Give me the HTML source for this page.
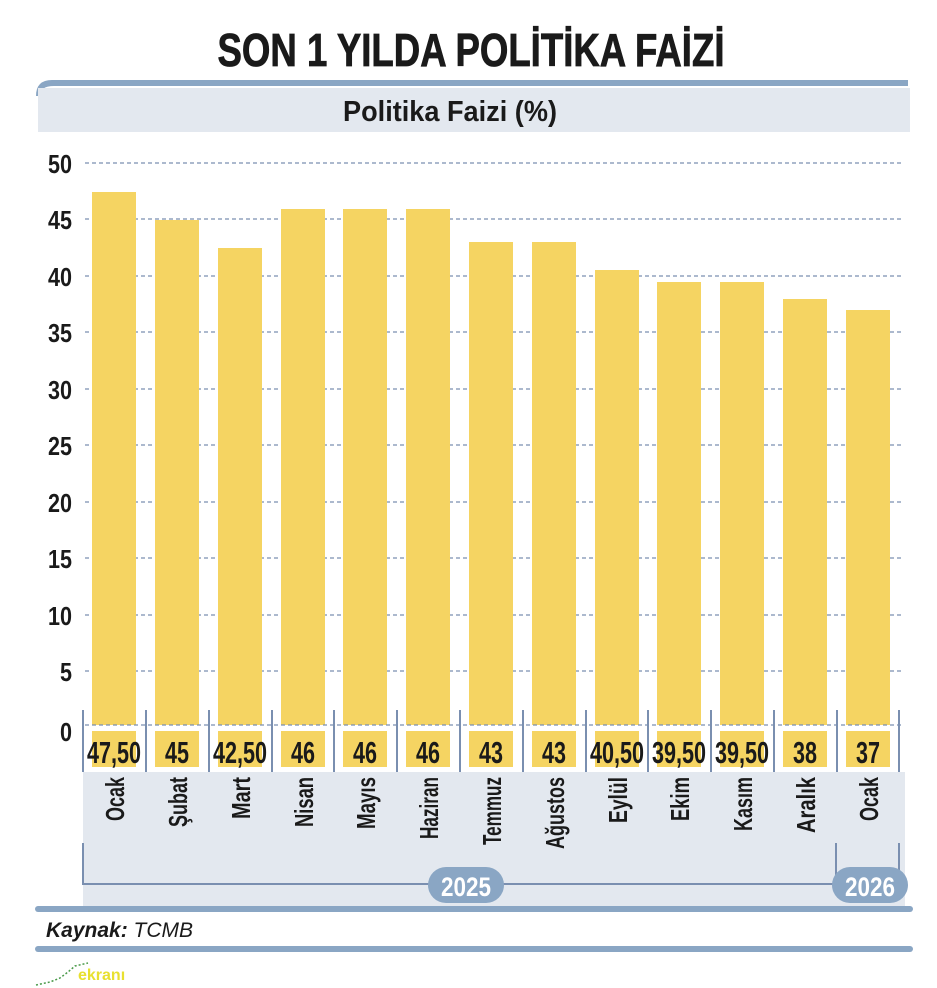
<!DOCTYPE html>
<html><head><meta charset="utf-8"><style>
html,body{margin:0;padding:0;background:#fff;width:937px;height:988px;overflow:hidden}
svg{display:block}
text{font-family:"Liberation Sans",sans-serif}
</style></head><body>
<svg width="937" height="988" viewBox="0 0 937 988" xmlns="http://www.w3.org/2000/svg">
<text x="471" y="66" text-anchor="middle" font-size="46" font-weight="bold" fill="#1a1a1a" stroke="#1a1a1a" stroke-width="0.8" textLength="507" lengthAdjust="spacingAndGlyphs">SON 1 YILDA POLİTİKA FAİZİ</text>
<path d="M36,96 Q36,80 52,80 L908,80 L908,86 L54,86 Q40,86 40,96 Z" fill="#8aa6c4"/>
<rect x="38" y="88" width="872" height="44" fill="#e3e8ef"/>
<text x="450" y="121" text-anchor="middle" font-size="29" font-weight="bold" fill="#1a1a1a" textLength="214" lengthAdjust="spacingAndGlyphs">Politika Faizi (%)</text>
<g stroke="#7a8fb0" stroke-width="1.3" stroke-dasharray="4,3">
<line x1="85" y1="163" x2="902" y2="163"/><line x1="85" y1="219" x2="902" y2="219"/><line x1="85" y1="276" x2="902" y2="276"/><line x1="85" y1="332" x2="902" y2="332"/><line x1="85" y1="389" x2="902" y2="389"/><line x1="85" y1="445" x2="902" y2="445"/><line x1="85" y1="502" x2="902" y2="502"/><line x1="85" y1="558" x2="902" y2="558"/><line x1="85" y1="615" x2="902" y2="615"/><line x1="85" y1="671" x2="902" y2="671"/>
</g>
<g font-size="26" font-weight="bold" fill="#1a1a1a" text-anchor="end">
<text x="72" y="173" textLength="24" lengthAdjust="spacingAndGlyphs">50</text><text x="72" y="229" textLength="24" lengthAdjust="spacingAndGlyphs">45</text><text x="72" y="286" textLength="24" lengthAdjust="spacingAndGlyphs">40</text><text x="72" y="342" textLength="24" lengthAdjust="spacingAndGlyphs">35</text><text x="72" y="399" textLength="24" lengthAdjust="spacingAndGlyphs">30</text><text x="72" y="455" textLength="24" lengthAdjust="spacingAndGlyphs">25</text><text x="72" y="512" textLength="24" lengthAdjust="spacingAndGlyphs">20</text><text x="72" y="568" textLength="24" lengthAdjust="spacingAndGlyphs">15</text><text x="72" y="625" textLength="24" lengthAdjust="spacingAndGlyphs">10</text><text x="72" y="681" textLength="12" lengthAdjust="spacingAndGlyphs">5</text><text x="72" y="741" textLength="12" lengthAdjust="spacingAndGlyphs">0</text>
</g>
<rect x="83" y="772" width="822" height="134" fill="#e3e8ef"/>
<g fill="#f5d462">
<rect x="92" y="192" width="44" height="533"/><rect x="155" y="220" width="44" height="505"/><rect x="218" y="248" width="44" height="477"/><rect x="281" y="209" width="44" height="516"/><rect x="343" y="209" width="44" height="516"/><rect x="406" y="209" width="44" height="516"/><rect x="469" y="242" width="44" height="483"/><rect x="532" y="242" width="44" height="483"/><rect x="595" y="270" width="44" height="455"/><rect x="657" y="282" width="44" height="443"/><rect x="720" y="282" width="44" height="443"/><rect x="783" y="299" width="44" height="426"/><rect x="846" y="310" width="44" height="415"/>
<rect x="92" y="731" width="44" height="36"/><rect x="155" y="731" width="44" height="36"/><rect x="218" y="731" width="44" height="36"/><rect x="281" y="731" width="44" height="36"/><rect x="343" y="731" width="44" height="36"/><rect x="406" y="731" width="44" height="36"/><rect x="469" y="731" width="44" height="36"/><rect x="532" y="731" width="44" height="36"/><rect x="595" y="731" width="44" height="36"/><rect x="657" y="731" width="44" height="36"/><rect x="720" y="731" width="44" height="36"/><rect x="783" y="731" width="44" height="36"/><rect x="846" y="731" width="44" height="36"/>
</g>
<line x1="85" y1="725" x2="902" y2="725" stroke="#7a8fb0" stroke-width="1.3" stroke-dasharray="4,3"/>
<g stroke="#7a8fb0" stroke-width="2">
<line x1="83" y1="710" x2="83" y2="772"/><line x1="146" y1="710" x2="146" y2="772"/><line x1="209" y1="710" x2="209" y2="772"/><line x1="272" y1="710" x2="272" y2="772"/><line x1="334" y1="710" x2="334" y2="772"/><line x1="397" y1="710" x2="397" y2="772"/><line x1="460" y1="710" x2="460" y2="772"/><line x1="523" y1="710" x2="523" y2="772"/><line x1="586" y1="710" x2="586" y2="772"/><line x1="648" y1="710" x2="648" y2="772"/><line x1="711" y1="710" x2="711" y2="772"/><line x1="774" y1="710" x2="774" y2="772"/><line x1="837" y1="710" x2="837" y2="772"/><line x1="899" y1="710" x2="899" y2="772"/>
<polyline points="83,843 83,884 835,884" fill="none"/>
<polyline points="836,843 836,884 899,884 899,843" fill="none"/>
</g>
<g font-size="31" font-weight="bold" fill="#1a1a1a" text-anchor="middle">
<text x="114" y="763" textLength="54" lengthAdjust="spacingAndGlyphs">47,50</text><text x="177" y="763" textLength="24" lengthAdjust="spacingAndGlyphs">45</text><text x="240" y="763" textLength="54" lengthAdjust="spacingAndGlyphs">42,50</text><text x="303" y="763" textLength="24" lengthAdjust="spacingAndGlyphs">46</text><text x="365" y="763" textLength="24" lengthAdjust="spacingAndGlyphs">46</text><text x="428" y="763" textLength="24" lengthAdjust="spacingAndGlyphs">46</text><text x="491" y="763" textLength="24" lengthAdjust="spacingAndGlyphs">43</text><text x="554" y="763" textLength="24" lengthAdjust="spacingAndGlyphs">43</text><text x="617" y="763" textLength="54" lengthAdjust="spacingAndGlyphs">40,50</text><text x="679" y="763" textLength="54" lengthAdjust="spacingAndGlyphs">39,50</text><text x="742" y="763" textLength="54" lengthAdjust="spacingAndGlyphs">39,50</text><text x="805" y="763" textLength="24" lengthAdjust="spacingAndGlyphs">38</text><text x="868" y="763" textLength="24" lengthAdjust="spacingAndGlyphs">37</text>
</g>
<g font-size="26" font-weight="bold" fill="#1a1a1a" text-anchor="end">
<text transform="translate(124,777) rotate(-90)" textLength="44" lengthAdjust="spacingAndGlyphs">Ocak</text>
<text transform="translate(187,777) rotate(-90)" textLength="50" lengthAdjust="spacingAndGlyphs">Şubat</text>
<text transform="translate(250,777) rotate(-90)" textLength="42" lengthAdjust="spacingAndGlyphs">Mart</text>
<text transform="translate(313,777) rotate(-90)" textLength="50" lengthAdjust="spacingAndGlyphs">Nisan</text>
<text transform="translate(375,777) rotate(-90)" textLength="52" lengthAdjust="spacingAndGlyphs">Mayıs</text>
<text transform="translate(438,777) rotate(-90)" textLength="62" lengthAdjust="spacingAndGlyphs">Haziran</text>
<text transform="translate(501,777) rotate(-90)" textLength="68" lengthAdjust="spacingAndGlyphs">Temmuz</text>
<text transform="translate(564,777) rotate(-90)" textLength="72" lengthAdjust="spacingAndGlyphs">Ağustos</text>
<text transform="translate(627,777) rotate(-90)" textLength="46" lengthAdjust="spacingAndGlyphs">Eylül</text>
<text transform="translate(689,777) rotate(-90)" textLength="44" lengthAdjust="spacingAndGlyphs">Ekim</text>
<text transform="translate(752,777) rotate(-90)" textLength="54" lengthAdjust="spacingAndGlyphs">Kasım</text>
<text transform="translate(815,777) rotate(-90)" textLength="56" lengthAdjust="spacingAndGlyphs">Aralık</text>
<text transform="translate(878,777) rotate(-90)" textLength="44" lengthAdjust="spacingAndGlyphs">Ocak</text>
</g>
<rect x="428" y="867" width="76" height="36" rx="18" fill="#8aa6c4"/>
<rect x="832" y="867" width="76" height="36" rx="18" fill="#8aa6c4"/>
<text x="466" y="896" text-anchor="middle" font-size="27" font-weight="bold" fill="#fff" textLength="50" lengthAdjust="spacingAndGlyphs">2025</text>
<text x="870" y="896" text-anchor="middle" font-size="27" font-weight="bold" fill="#fff" textLength="50" lengthAdjust="spacingAndGlyphs">2026</text>
<rect x="35" y="906" width="878" height="6" rx="3" fill="#8aa6c4"/>
<text x="46" y="937" font-size="21" fill="#1a1a1a" font-style="italic"><tspan font-weight="bold">Kaynak:</tspan> TCMB</text>
<rect x="35" y="946" width="878" height="6" rx="3" fill="#8aa6c4"/>
<text x="78" y="980" font-size="16" font-weight="bold" fill="#e8e030">ekranı</text>
<polyline points="36,985 50,982 60,978 68,972 75,966 88,963" fill="none" stroke="#4a9a4a" stroke-width="1.5" stroke-dasharray="2,2"/>
</svg>
</body></html>
